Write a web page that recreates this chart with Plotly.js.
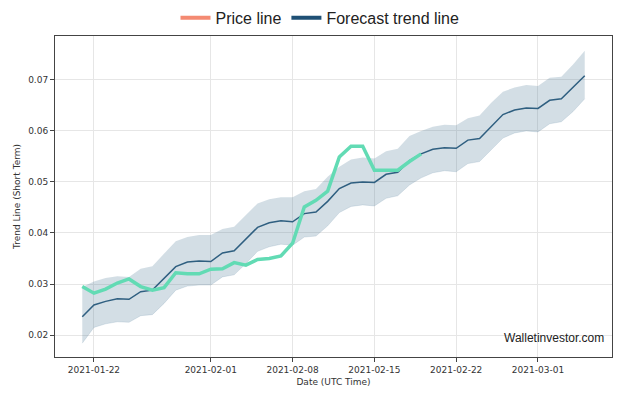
<!DOCTYPE html>
<html>
<head>
<meta charset="utf-8">
<script src="https://cdn.plot.ly/plotly-3.0.1.min.js"></script>
<style>body{margin:0;background:#fff}#chart{width:640px;height:400px}</style>
</head>
<body>
<div id="chart"></div>
<script>
// daily dates 2021-01-21 .. 2021-03-05
const startDate = '2021-01-21';
const forecast = [0.0236,0.0259,0.0266,0.0271,0.0270,0.0285,0.0288,0.0310,0.0334,0.0343,0.0345,0.0344,0.0361,0.0365,
  0.0388,0.0411,0.0420,0.0424,0.0422,0.0438,0.0441,0.0462,0.0487,0.0498,0.0500,0.0499,0.0515,0.0519,0.0542,0.0555,
  0.0564,0.0567,0.0566,0.0582,0.0585,0.0609,0.0632,0.0641,0.0645,0.0644,0.0660,0.0663,0.0685,0.0708];
const upper = [0.0294,0.0305,0.0312,0.0315,0.0314,0.0330,0.0335,0.0360,0.0384,0.0392,0.0396,0.0396,0.0408,0.0412,
  0.0436,0.0458,0.0466,0.0470,0.0470,0.0482,0.0486,0.0510,0.0530,0.0544,0.0548,0.0546,0.0560,0.0565,0.0590,0.0600,
  0.0608,0.0612,0.0611,0.0625,0.0630,0.0655,0.0677,0.0685,0.0690,0.0688,0.0704,0.0706,0.0730,0.0757];
const lower = [0.0184,0.0215,0.0222,0.0226,0.0225,0.0238,0.0240,0.0262,0.0288,0.0296,0.0298,0.0298,0.0314,0.0318,
  0.0340,0.0364,0.0373,0.0378,0.0376,0.0392,0.0394,0.0414,0.0440,0.0452,0.0455,0.0453,0.0468,0.0473,0.0494,0.0508,
  0.0518,0.0522,0.0520,0.0536,0.0540,0.0562,0.0586,0.0596,0.0600,0.0598,0.0614,0.0618,0.0638,0.0663];
const price = [0.0295,0.0282,0.0290,0.0302,0.0310,0.0295,0.0288,0.0293,0.0322,0.0320,0.0320,0.0329,0.0330,0.0342,
  0.0337,0.0348,0.0350,0.0355,0.0380,0.0451,0.0464,0.0482,0.0549,0.0570,0.0570,0.0523,0.0523,0.0523,0.0540,0.0555];
const tickVals = ['2021-01-22','2021-02-01','2021-02-08','2021-02-15','2021-02-22','2021-03-01'];

function dayList(n){
  const out=[]; const d0=new Date(startDate+'T00:00:00Z');
  for(let i=0;i<n;i++){const d=new Date(d0.getTime()+i*86400000);out.push(d.toISOString().slice(0,10));}
  return out;
}
const dates = dayList(forecast.length);

const data = [
  {x: dates, y: upper, mode:'lines', line:{width:0, color:'rgba(0,0,0,0)'}, showlegend:false, hoverinfo:'skip'},
  {x: dates, y: lower, mode:'lines', fill:'tonexty', fillcolor:'rgba(70,115,145,0.24)', line:{width:0.6, color:'rgba(70,115,145,0.25)'}, showlegend:false, hoverinfo:'skip'},
  {x: dates, y: forecast, mode:'lines', line:{color:'#2f5f80', width:1.5}, showlegend:false},
  {x: dates.slice(0,price.length), y: price, mode:'lines', line:{color:'#62dbb4', width:3.5}, showlegend:false},
  {x:[null], y:[null], mode:'lines', name:'Price line', line:{color:'#f48a72', width:4}},
  {x:[null], y:[null], mode:'lines', name:'Forecast trend line', line:{color:'#1f5075', width:4}}
];

const layout = {
  width:640, height:400,
  margin:{l:55, r:28, t:36, b:43},
  paper_bgcolor:'#fff', plot_bgcolor:'#fff',
  font:{family:'DejaVu Sans, sans-serif', color:'#333'},
  showlegend:true,
  legend:{orientation:'h', traceorder:'normal', x:0.5, xanchor:'center', xref:'container', y:0.998, yanchor:'top', yref:'container',
    bgcolor:'rgba(0,0,0,0)', font:{size:16, color:'#222', family:'Liberation Sans, Arial, sans-serif'}},
  xaxis:{type:'date', range:['2021-01-18 16:00','2021-03-07 08:00'], tickvals:tickVals, ticktext:tickVals,
    tickfont:{size:9}, ticks:'outside', ticklen:4, showgrid:true, gridcolor:'#e6e6e6',
    showline:true, mirror:true, linecolor:'#444', linewidth:1, zeroline:false,
    title:{text:'Date (UTC Time)', font:{size:9}, standoff:4}},
  yaxis:{range:[0.0157,0.0786], tickvals:[0.02,0.03,0.04,0.05,0.06,0.07], tickformat:'.2f',
    tickfont:{size:9}, ticks:'outside', ticklen:4, showgrid:true, gridcolor:'#e6e6e6',
    showline:true, mirror:true, linecolor:'#444', linewidth:1, zeroline:false,
    title:{text:'Trend Line (Short Term)', font:{size:9}, standoff:6}},
  annotations:[{text:'Walletinvestor.com', xref:'paper', yref:'paper', x:0.99, y:0.03, xanchor:'right', yanchor:'bottom',
    showarrow:false, font:{size:12, color:'#222', family:'Liberation Sans, Arial, sans-serif'}}]
};

Plotly.newPlot('chart', data, layout, {displayModeBar:false, staticPlot:true});
</script>
</body>
</html>
